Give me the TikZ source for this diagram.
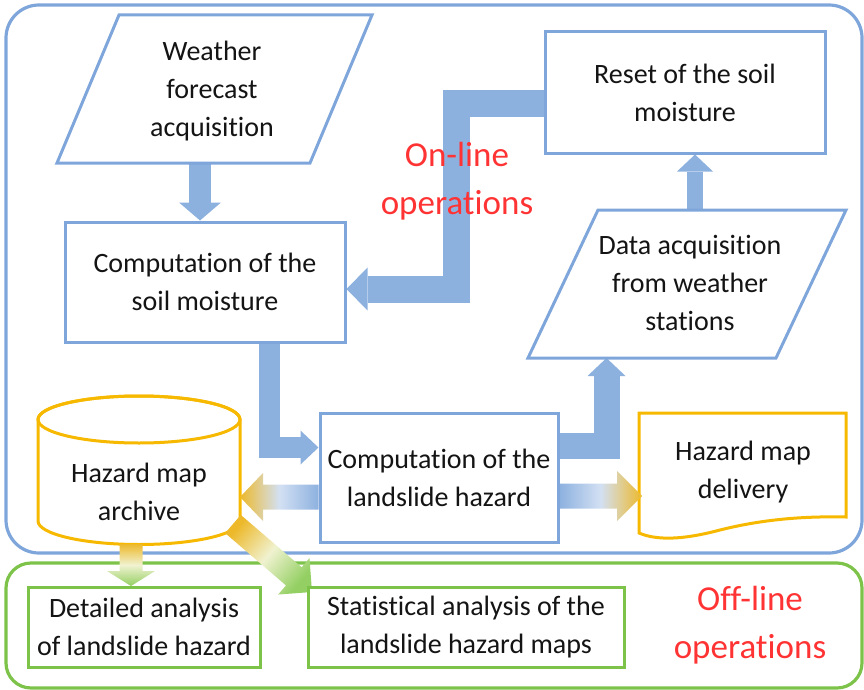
\documentclass[tikz,border=0pt]{standalone}
\usepackage{fontspec}
\setmainfont{Carlito}[Ligatures={NoCommon,NoRequired,NoContextual}]
\usetikzlibrary{arrows.meta,calc}
\definecolor{boxblue}{HTML}{7FA6DB}
\definecolor{arrblue}{HTML}{8DB1DF}
\definecolor{paleblue}{HTML}{D3E0F3}
\definecolor{gold}{HTML}{F7B900}
\definecolor{goldarr}{HTML}{EDB92B}
\definecolor{paleyg}{HTML}{F0F2D0}
\definecolor{grn}{HTML}{7DC34A}
\definecolor{grnarr}{HTML}{93CF62}
\definecolor{redtxt}{HTML}{FF3333}
\definecolor{txt}{HTML}{141414}
\newcommand{\tii}{t\kern0pt i}
\newcommand{\gradarrow}[7]{%
  \coordinate (#7B) at ($(#3)!#6!(#2)$);
  \shade[#1] ($(#2)!#4!90:(#3)$) -- ($(#7B)!#4!-90:(#2)$) -- ($(#7B)!#5!-90:(#2)$) -- (#3)
    -- ($(#7B)!#5!90:(#2)$) -- ($(#7B)!#4!90:(#2)$) -- ($(#2)!#4!-90:(#3)$) -- cycle;}
\begin{document}
\begin{tikzpicture}[x=1pt,y=-1pt,
  txtnode/.style={text=txt, align=center, inner sep=0pt, font=\fontsize{28}{38}\selectfont},
  box/.style={txtnode, draw=boxblue, line width=3pt, fill=white, minimum width=#1},
  gbox/.style={txtnode, draw=grn, line width=3pt, fill=white, minimum width=#1, minimum height=80pt},
  para/.style={draw=boxblue, line width=3pt, fill=white, line join=miter},
  fatarrow/.style={draw=arrblue, line join=miter, line cap=butt},
  redlabel/.style={text=redtxt, align=center, inner sep=0pt, font=\fontsize{35}{48}\selectfont}]
\useasboundingbox (0,0) rectangle (864,690);
% frames
\draw[draw=boxblue, line width=3.2pt, rounded corners=33pt] (6,5) rectangle (862,553);
\draw[draw=grn, line width=3.2pt, rounded corners=25pt] (6,563) rectangle (862,688);
% coordinates
\coordinate (w1) at (119,15); \coordinate (w2) at (372,15);
\coordinate (w3) at (310,163); \coordinate (w4) at (57,163);
\coordinate (wbot) at (200,163);
\coordinate (d1) at (598,210); \coordinate (d2) at (846,210);
\coordinate (d3) at (776,358); \coordinate (d4) at (528,358);
\coordinate (dtop) at (695,210);
\coordinate (dbot) at (606.5,358);
% process boxes
\node[box=280pt, minimum height=120pt] (soil) at (205,282) {Computa\tii on of the\\soil moisture};
\node[box=280pt, minimum height=121pt] (reset) at (685,92.5) {Reset of the soil\\moisture};
\node[box=238pt, minimum height=129pt] (land) at (439,477.5) {Computa\tii on of the\\landslide hazard};
% fat blue connectors
\coordinate (r0) at ($(reset.west)+(0,11)$);
\coordinate (r1) at (456.5,103.5);
\coordinate (r2) at (456.5,289);
\coordinate (r3) at (soil.east |- r2);
\draw[fatarrow, line width=27pt, -{Triangle[width=43pt,length=21pt,line width=0pt]}] (r0) -- (r1) -- (r2) -- (r3);
\coordinate (s0) at (soil.south -| 269,0);
\coordinate (s1) at (269,447.5);
\coordinate (s2) at (land.west |- s1);
\draw[fatarrow, line width=21pt, -{Triangle[width=34pt,length=18pt,line width=0pt]}] (s0) -- (s1) -- (s2);
\coordinate (l0) at (land.east |- 0,445.5);
\coordinate (l1) at (606.5,445.5);
\draw[fatarrow, line width=26pt, -{Triangle[width=38pt,length=18pt,line width=0pt]}] (l0) -- (l1) -- (dbot);
\draw[fatarrow, line width=22pt, -{Triangle[width=42pt,length=18pt,line width=0pt]}] (wbot) -- (wbot |- soil.north);
\draw[fatarrow, line width=16pt, -{Triangle[width=36pt,length=17pt,line width=0pt]}] (dtop) -- (dtop |- reset.south);
% redraw boxes on top of connectors
\node[box=280pt, minimum height=120pt] at (soil) {Computa\tii on of the\\soil moisture};
\node[box=280pt, minimum height=121pt] at (reset) {Reset of the soil\\moisture};
% parallelograms
\draw[para] (w1) -- (w2) -- (w3) -- (w4) -- cycle;
\node[txtnode] (weather) at (212,91) {Weather\\forecast\\acquisi\tii on};
\draw[para] (d1) -- (d2) -- (d3) -- (d4) -- cycle;
\node[txtnode] (data) at (690,283) {Data acquisi\tii on\\from weather\\sta\tii ons};
% archive cylinder
\draw[draw=gold, line width=3pt, fill=white] (38,419.5) -- (38,521) arc[start angle=180, end angle=0, x radius=101, y radius=23.5]
  -- (240,419.5) arc[start angle=0, end angle=-180, x radius=101, y radius=23.5] -- cycle;
\draw[draw=gold, line width=3pt] (139,419.5) ellipse [x radius=101, y radius=23.5];
\node[txtnode] (archive) at (139,492) {Hazard map\\archive};
% delivery document
\draw[draw=gold, line width=3pt, fill=white, line join=miter] (639,413) -- (846,413) -- (846,517)
  .. controls (800,516) and (760,520) .. (720,530) .. controls (690,538) and (660,542) .. (639,533) -- cycle;
\node[txtnode] (delivery) at (743,472) {Hazard map\\delivery};
% off-line boxes
\node[gbox=232pt] (detailed) at (144,627) {Detailed analysis\\of landslide hazard};
\node[gbox=316pt] (stat) at (466,627) {Sta\tii s\tii cal analysis of the\\landslide hazard maps};
% gradient connectors
\coordinate (la0) at (land.west |- 0,497);
\coordinate (la1) at (240,497);
\gradarrow{left color=goldarr, right color=arrblue, middle color=paleblue}{la0}{la1}{12.5pt}{24pt}{23pt}{la}
\coordinate (ld0) at (land.east |- 0,496);
\coordinate (ld1) at (642,496);
\gradarrow{left color=arrblue, right color=goldarr, middle color=paleblue}{ld0}{ld1}{12.5pt}{25pt}{25pt}{ld}
\coordinate (ad0) at (131,544);
\coordinate (ad1) at (131,586);
\gradarrow{top color=goldarr, bottom color=grnarr, middle color=paleyg}{ad0}{ad1}{11.5pt}{24pt}{15pt}{ad}
\coordinate (as0) at (233,524);
\coordinate (as1) at (312,592);
\gradarrow{top color=goldarr, bottom color=grnarr, middle color=paleyg, shading angle=50}{as0}{as1}{12pt}{24pt}{24pt}{as}
\node[txtnode, draw=boxblue, line width=3pt, fill=white, minimum width=238pt, minimum height=129pt] at (land) {Computa\tii on of the\\landslide hazard};
\node[gbox=232pt] at (detailed) {Detailed analysis\\of landslide hazard};
\node[gbox=316pt] at (stat) {Sta\tii s\tii cal analysis of the\\landslide hazard maps};
% labels
\node[redlabel] (online) at (457,181) {On-line\\opera\tii ons};
\node[redlabel] (offline) at (750,625) {Off-line\\opera\tii ons};
\end{tikzpicture}
\end{document}
